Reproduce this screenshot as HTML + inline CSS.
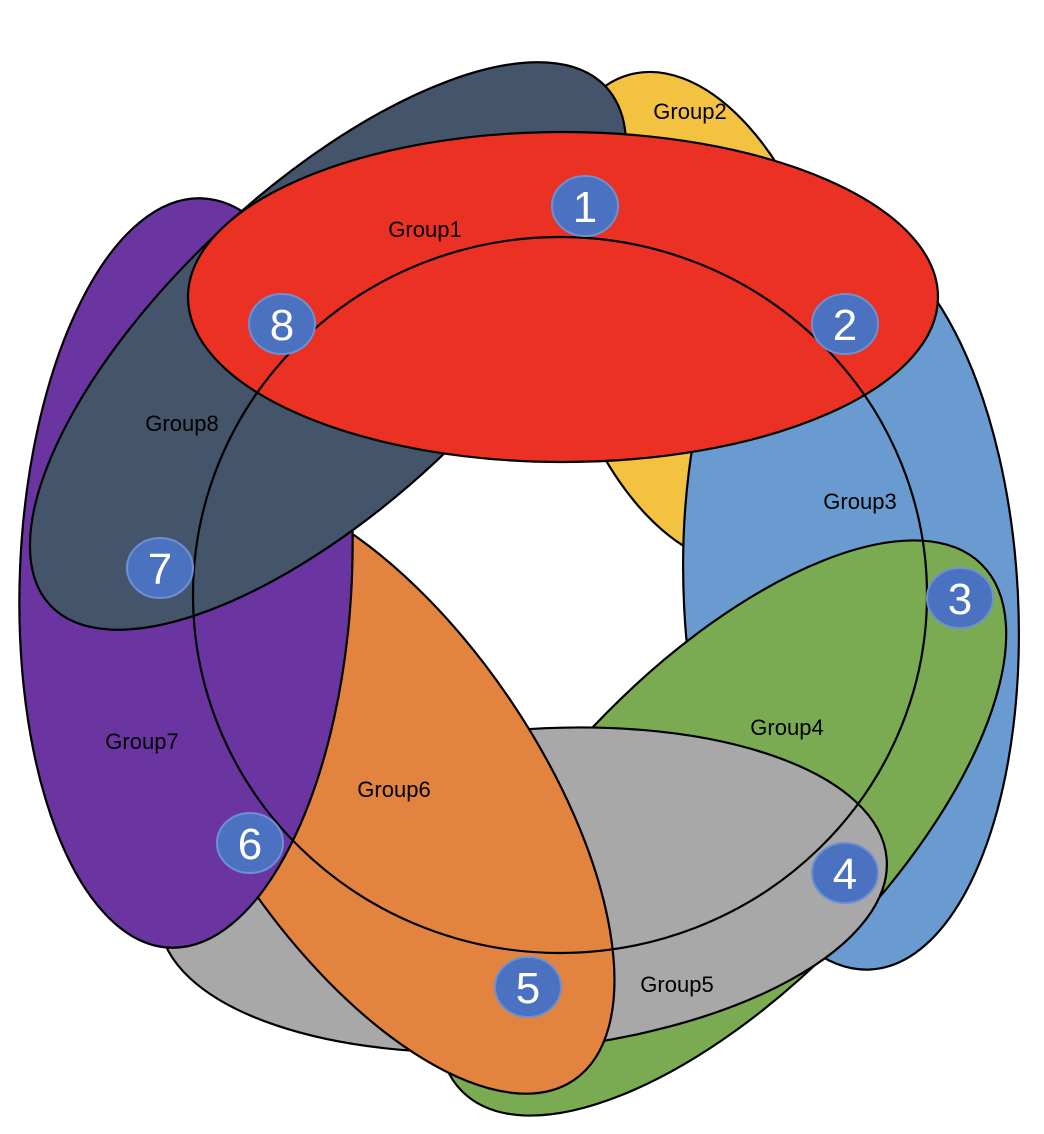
<!DOCTYPE html>
<html><head><meta charset="utf-8"><style>
html,body{margin:0;padding:0;background:#fff;overflow:hidden;}
svg{display:block;}
text{font-family:"Liberation Sans",sans-serif;}
.l{font-size:22px;fill:#000;text-anchor:middle;}
.n{font-size:44px;fill:#fff;text-anchor:middle;}
.b{fill:#4A72C0;stroke:#6F8FD0;stroke-width:2;}
</style></head><body>
<svg width="1044" height="1134" viewBox="0 0 1044 1134" xmlns="http://www.w3.org/2000/svg">
<g stroke="#000" stroke-width="2.2">
<ellipse cx="695" cy="318" rx="252" ry="138" transform="rotate(75 695 318)" fill="#F3C241"/>
<ellipse cx="851" cy="600" rx="167" ry="370" transform="rotate(-3 851 600)" fill="#6A9BD0"/>
<ellipse cx="722" cy="828" rx="370" ry="163" transform="rotate(-45.5 722 828)" fill="#7AAB52"/>
<ellipse cx="523" cy="890" rx="365" ry="160" transform="rotate(-5 523 890)" fill="#A8A8A8"/>
<ellipse cx="378" cy="790" rx="350" ry="160" transform="rotate(56 378 790)" fill="#E2843F"/>
<ellipse cx="186" cy="573" rx="166" ry="375" transform="rotate(2.5 186 573)" fill="#6A35A0"/>
<ellipse cx="328" cy="346" rx="380" ry="158" transform="rotate(-43 328 346)" fill="#44546A"/>
<ellipse cx="563" cy="297" rx="375" ry="165" fill="#EA3124"/>
<ellipse cx="560" cy="595" rx="367" ry="358" fill="none"/>
</g>
<text class="l" x="425" y="237">Group1</text>
<text class="l" x="690" y="119">Group2</text>
<text class="l" x="860" y="509">Group3</text>
<text class="l" x="787" y="735">Group4</text>
<text class="l" x="677" y="992">Group5</text>
<text class="l" x="394" y="797">Group6</text>
<text class="l" x="142" y="749">Group7</text>
<text class="l" x="182" y="431">Group8</text>
<g>
<ellipse class="b" cx="585" cy="206" rx="33" ry="30"/><text class="n" x="585" y="222">1</text>
<ellipse class="b" cx="845" cy="324" rx="33" ry="30"/><text class="n" x="845" y="340">2</text>
<ellipse class="b" cx="960" cy="598" rx="33" ry="30"/><text class="n" x="960" y="614">3</text>
<ellipse class="b" cx="845" cy="873" rx="33" ry="30"/><text class="n" x="845" y="889">4</text>
<ellipse class="b" cx="528" cy="987" rx="33" ry="30"/><text class="n" x="528" y="1003">5</text>
<ellipse class="b" cx="250" cy="843" rx="33" ry="30"/><text class="n" x="250" y="859">6</text>
<ellipse class="b" cx="160" cy="568" rx="33" ry="30"/><text class="n" x="160" y="584">7</text>
<ellipse class="b" cx="282" cy="324" rx="33" ry="30"/><text class="n" x="282" y="340">8</text>
</g>
</svg>
</body></html>
